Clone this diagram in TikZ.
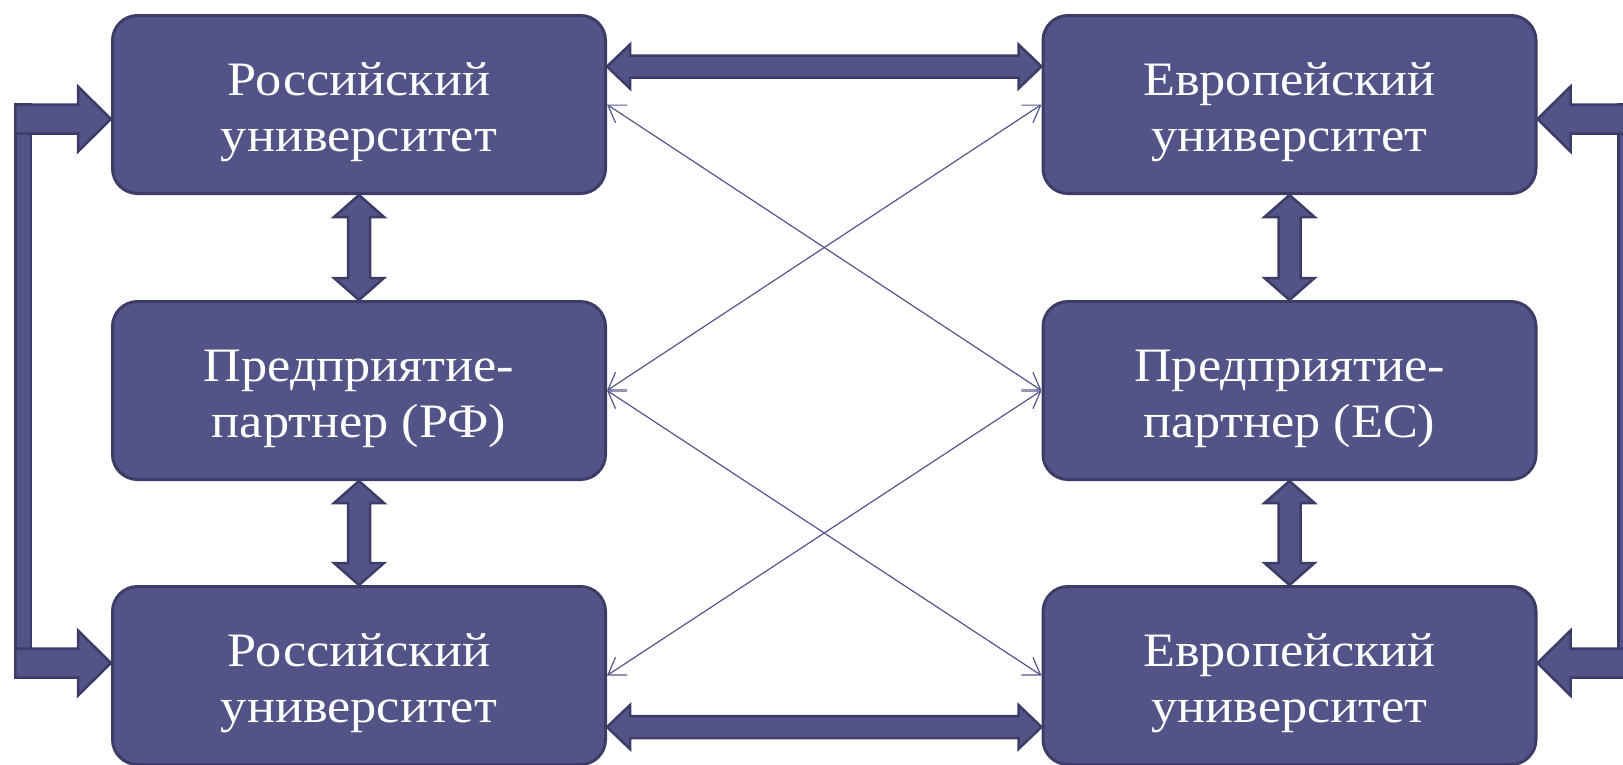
\documentclass[tikz,border=0pt]{standalone}
\usepackage{fontspec}
\setmainfont{Liberation Serif}[FakeStretch=1.09]
\usetikzlibrary{arrows.meta,calc}
\definecolor{boxfill}{RGB}{83,83,136}
\definecolor{boxline}{RGB}{60,60,102}
\definecolor{thinline}{RGB}{85,85,140}
% horizontal double block arrow between two tips (same height)
\newcommand\BlkH[2]{%
  \path[blk] let \p1=#1, \p2=#2 in
    (\x1,\y1) -- (\x1+23pt,\y1+22pt) -- (\x1+23pt,\y1+11pt) -- (\x2-23pt,\y1+11pt)
    -- (\x2-23pt,\y1+22pt) -- (\x2,\y1) -- (\x2-23pt,\y1-22pt) -- (\x2-23pt,\y1-11pt)
    -- (\x1+23pt,\y1-11pt) -- (\x1+23pt,\y1-22pt) -- cycle;}
% vertical double block arrow between two tips (top, bottom)
\newcommand\BlkV[2]{%
  \path[blk] let \p1=#1, \p2=#2 in
    (\x1,\y1) -- (\x1+25pt,\y1-22pt) -- (\x1+11pt,\y1-22pt) -- (\x1+11pt,\y2+22pt)
    -- (\x1+25pt,\y2+22pt) -- (\x1,\y2) -- (\x1-25pt,\y2+22pt) -- (\x1-11pt,\y2+22pt)
    -- (\x1-11pt,\y1-22pt) -- (\x1-25pt,\y1-22pt) -- cycle;}
% branch arrow pointing right to a tip, tail starting at x=#2
\newcommand\BlkToRight[2]{%
  \path[blk] let \p1=#1 in
    (\x1,\y1) -- (\x1-33pt,\y1+32.5pt) -- (\x1-33pt,\y1+14.5pt) -- (#2,\y1+14.5pt)
    -- (#2,\y1-14.5pt) -- (\x1-33pt,\y1-14.5pt) -- (\x1-33pt,\y1-32.5pt) -- cycle;}
% branch arrow pointing left to a tip, tail ending at x=#2
\newcommand\BlkToLeft[2]{%
  \path[blk] let \p1=#1 in
    (\x1,\y1) -- (\x1+33pt,\y1+32.5pt) -- (\x1+33pt,\y1+14.5pt) -- (#2,\y1+14.5pt)
    -- (#2,\y1-14.5pt) -- (\x1+33pt,\y1-14.5pt) -- (\x1+33pt,\y1-32.5pt) -- cycle;}
\begin{document}
\begin{tikzpicture}[x=1pt,y=-1pt,
  unibox/.style={draw=boxline, fill=boxfill, line width=3pt, rounded corners=25pt,
    minimum width=493pt, minimum height=178pt, inner sep=0pt, text=white,
    font=\fontsize{48}{56}\selectfont, text height=40pt, text depth=58pt},
  blk/.style={draw=boxline, fill=boxfill, line width=2.5pt, line join=miter},
  link/.style={draw=thinline, line width=1.2pt, >={Straight Barb[length=16pt,width=21pt]}, <->}
]
\useasboundingbox (0,0) rectangle (1623,764);
\fill[white] (0,0) rectangle (1623,764);
\clip (0,0) rectangle (1623,764);

\node[unibox] (ru1) at (359,104.5) {\begin{tabular}[t]{@{}c@{}}Российский\\университет\end{tabular}};
\node[unibox] (ru2) at (359,390.5) {\begin{tabular}[t]{@{}c@{}}Предприятие-\\партнер (РФ)\end{tabular}};
\node[unibox] (ru3) at (359,675.5) {\begin{tabular}[t]{@{}c@{}}Российский\\университет\end{tabular}};
\node[unibox] (eu1) at (1289.5,104.5) {\begin{tabular}[t]{@{}c@{}}Европейский\\университет\end{tabular}};
\node[unibox] (eu2) at (1289.5,390.5) {\begin{tabular}[t]{@{}c@{}}Предприятие-\\партнер (ЕС)\end{tabular}};
\node[unibox] (eu3) at (1289.5,675.5) {\begin{tabular}[t]{@{}c@{}}Европейский\\университет\end{tabular}};

% thin crossing links
\draw[link] (ru1.east) -- (eu2.west);
\draw[link] (ru2.east) -- (eu1.west);
\draw[link] (ru2.east) -- (eu3.west);
\draw[link] (ru3.east) -- (eu2.west);

% horizontal block arrows
\BlkH{([yshift=38pt]ru1.east)}{([yshift=38pt]eu1.west)}
\BlkH{([yshift=-51.5pt]ru3.east)}{([yshift=-51.5pt]eu3.west)}

% vertical block arrows
\BlkV{(ru1.south)}{(ru2.north)}
\BlkV{(ru2.south)}{(ru3.north)}
\BlkV{(eu1.south)}{(eu2.north)}
\BlkV{(eu2.south)}{(eu3.north)}

% left bracket
\coordinate (lb1) at ([yshift=-14.5pt]ru1.west);
\coordinate (lb2) at ([yshift=12.5pt]ru3.west);
\path[blk] let \p1=(lb1), \p2=(lb2) in (15.25pt,\y1+14.5pt) rectangle (30.75pt,\y2-14.5pt);
\BlkToRight{(lb1)}{15.25pt}
\BlkToRight{(lb2)}{15.25pt}

% right bracket
\coordinate (rb1) at ([yshift=-14.5pt]eu1.east);
\coordinate (rb2) at ([yshift=12.5pt]eu3.east);
\path[blk] let \p1=(rb1), \p2=(rb2) in (1618.25pt,\y1+14.5pt) rectangle (1634pt,\y2-14.5pt);
\BlkToLeft{(rb1)}{1645pt}
\BlkToLeft{(rb2)}{1645pt}
\end{tikzpicture}
\end{document}
